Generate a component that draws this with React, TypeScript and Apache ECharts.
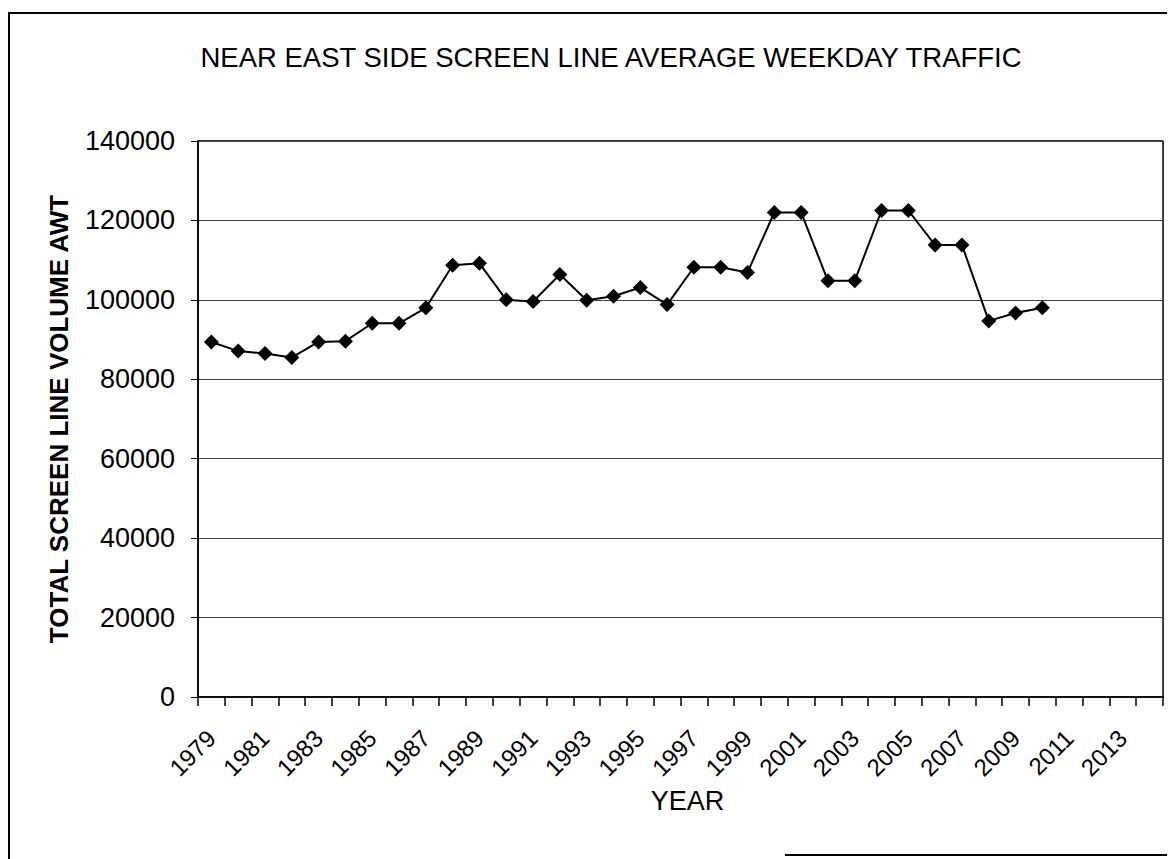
import React, { useEffect, useRef } from "react";
import * as echarts from "echarts";

const years: string[] = [];
for (let y = 1979; y <= 2014; y++) years.push(String(y));

const traffic: (number | null)[] = [
  89400, 87100, 86500, 85500, 89400, 89600, 94100, 94100, 98000, 108700,
  109200, 100000, 99600, 106400, 99900, 100900, 103100, 98800, 108200, 108200,
  106900, 122000, 122000, 104800, 104800, 122500, 122500, 113800, 113800, 94700,
  96700, 98000, null, null, null, null,
];

const titleText = "NEAR EAST SIDE SCREEN LINE AVERAGE WEEKDAY TRAFFIC";
const xName = "YEAR";
const yName = "TOTAL SCREEN LINE VOLUME AWT";

export default function App() {
  const ref = useRef<HTMLDivElement>(null);
  useEffect(() => {
    if (!ref.current) return;
    const chart = echarts.init(ref.current, null, { renderer: "svg" });
    const font = "Liberation Sans, Arial, sans-serif";
    chart.setOption({
      animation: false,
      backgroundColor: "#fff",
      textStyle: { fontFamily: font, color: "#000" },
      title: {
        text: titleText,
        left: 598,
        textAlign: "center",
        top: 30,
        textStyle: { fontSize: 27.5, fontWeight: "normal", color: "#000", fontFamily: font },
      },
      graphic: [
        { type: "line", shape: { x1: 0, y1: 5, x2: 1167, y2: 5 }, style: { stroke: "#000", lineWidth: 2 } },
        { type: "line", shape: { x1: 1, y1: 5, x2: 1, y2: 851 }, style: { stroke: "#000", lineWidth: 2 } },
        { type: "line", shape: { x1: 777, y1: 847, x2: 1167, y2: 847 }, style: { stroke: "#000", lineWidth: 2 } },
      ],
      grid: {
        left: 190,
        top: 133,
        width: 965,
        height: 556,
        show: true,
        borderColor: "#000",
        borderWidth: 1.5,
        containLabel: false,
      },
      xAxis: {
        type: "category",
        data: years,
        boundaryGap: true,
        name: xName,
        nameLocation: "middle",
        nameGap: 90,
        nameTextStyle: { fontSize: 27, color: "#000", fontFamily: font, padding: [0, 0, 0, 14] },
        axisLine: { lineStyle: { color: "#000", width: 1.5 } },
        axisTick: { show: true, interval: 0, length: 9, lineStyle: { color: "#000", width: 1.5 } },
        axisLabel: { interval: 1, rotate: 45, fontSize: 24, color: "#000", margin: 37, fontFamily: font },
        splitLine: { show: false },
      },
      yAxis: {
        type: "value",
        min: 0,
        max: 140000,
        interval: 20000,
        name: yName,
        nameLocation: "middle",
        nameGap: 126,
        nameTextStyle: { fontSize: 26, fontWeight: "bold", color: "#000", fontFamily: font },
        axisLine: { show: true, lineStyle: { color: "#000", width: 1.5 } },
        axisTick: { show: true, length: 7, lineStyle: { color: "#000" } },
        axisLabel: {
          fontSize: 27,
          color: "#000",
          margin: 23,
          fontFamily: font,
          formatter: (v: number) => String(v),
        },
        splitLine: { show: true, lineStyle: { color: "#444", width: 1 } },
      },
      series: [
        {
          type: "line",
          data: traffic,
          connectNulls: false,
          symbol: "diamond",
          symbolSize: 15,
          itemStyle: { color: "#000" },
          lineStyle: { color: "#000", width: 2 },
        },
      ],
    });
    return () => chart.dispose();
  }, []);
  return <div ref={ref} style={{ width: 1167, height: 851 }} />;
}
